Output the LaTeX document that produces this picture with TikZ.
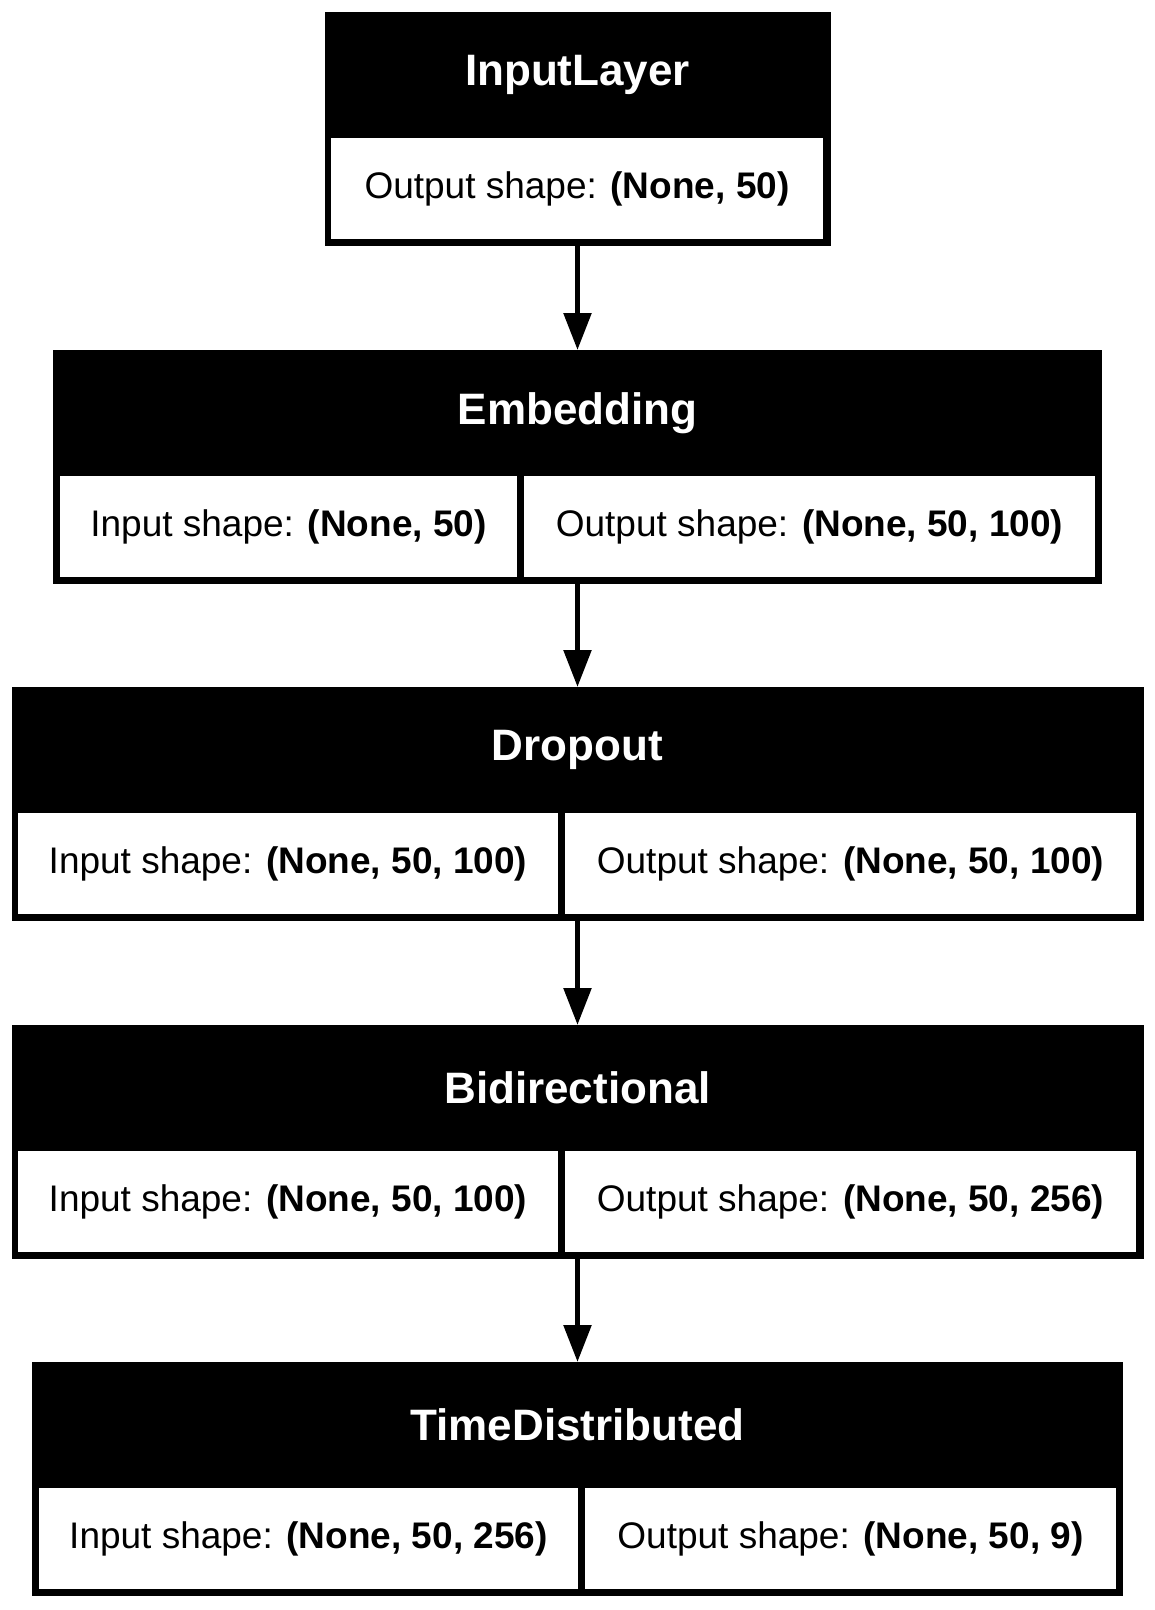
\documentclass[tikz,border=0pt]{standalone}
\usepackage{fontspec}
\setmainfont{Liberation Sans}
\usetikzlibrary{arrows.meta}
\newcommand\headfont{\fontsize{44}{52}\selectfont\bfseries}
\newcommand\cellfont{\fontsize{37}{44}\selectfont}
\tikzset{
  layerbox/.style={fill=black, inner sep=0pt, outer sep=0pt, anchor=north, minimum height=234pt},
  headtxt/.style={text=white, font=\headfont, inner sep=0pt},
  cellbox/.style={fill=white, inner sep=0pt, outer sep=0pt, anchor=north west, minimum height=101pt, font=\cellfont},
  flow/.style={line width=5.5pt, -{Triangle[length=37pt,width=27pt]}}
}
\begin{document}
\begin{tikzpicture}[x=1pt,y=-1pt]
	    \useasboundingbox (0,0) rectangle (1155,1610);
	    % layers
	    \node[layerbox, minimum width=506pt] (inp) at (577.5,12) {};
	    \node[headtxt] (inpH) at (577.5,75) {InputLayer};
	    \node[cellbox, minimum width=492pt] (inpO) at (331,138) {Output shape: \textbf{(None, 50)}};
	    \node[layerbox, minimum width=1049pt] (emb) at (577.5,350) {};
	    \node[headtxt] (embH) at (577.5,413) {Embedding};
	    \node[cellbox, minimum width=457pt] (embI) at (60,476) {Input shape: \textbf{(None, 50)}};
	    \node[cellbox, minimum width=571pt] (embO) at (524,476) {Output shape: \textbf{(None, 50, 100)}};
	    \node[layerbox, minimum width=1132pt] (drop) at (577.5,687) {};
	    \node[headtxt] (dropH) at (577.5,750) {Dropout};
	    \node[cellbox, minimum width=540pt] (dropI) at (18,813) {Input shape: \textbf{(None, 50, 100)}};
	    \node[cellbox, minimum width=571pt] (dropO) at (565,813) {Output shape: \textbf{(None, 50, 100)}};
	    \node[layerbox, minimum width=1132pt] (bidi) at (577.5,1025) {};
	    \node[headtxt] (bidiH) at (577.5,1088) {Bidirectional};
	    \node[cellbox, minimum width=540pt] (bidiI) at (18,1151) {Input shape: \textbf{(None, 50, 100)}};
	    \node[cellbox, minimum width=571pt] (bidiO) at (565,1151) {Output shape: \textbf{(None, 50, 256)}};
	    \node[layerbox, minimum width=1091pt] (td) at (577.5,1362) {};
	    \node[headtxt] (tdH) at (577.5,1425) {TimeDistributed};
	    \node[cellbox, minimum width=539pt] (tdI) at (39,1488) {Input shape: \textbf{(None, 50, 256)}};
	    \node[cellbox, minimum width=531pt] (tdO) at (585,1488) {Output shape: \textbf{(None, 50, 9)}};
	    % arrows
	    \draw[flow] (inp.south) -- (emb.north);
	    \draw[flow] (emb.south) -- (drop.north);
	    \draw[flow] (drop.south) -- (bidi.north);
	    \draw[flow] (bidi.south) -- (td.north);
\end{tikzpicture}
\end{document}
